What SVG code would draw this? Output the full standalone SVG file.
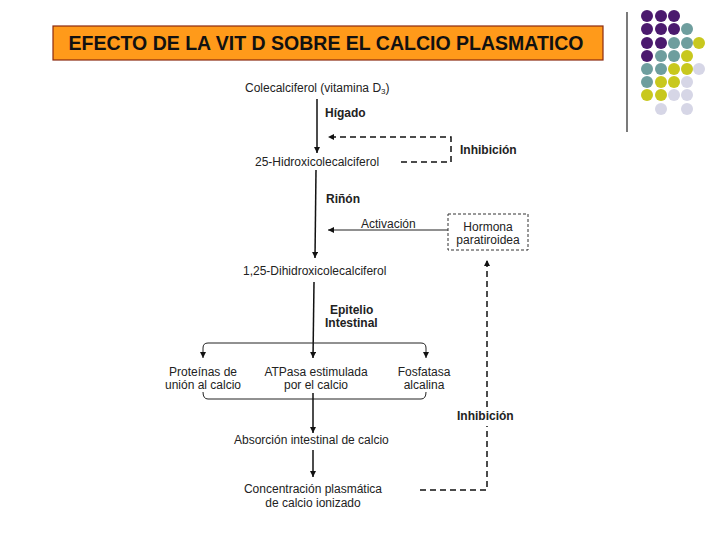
<svg xmlns="http://www.w3.org/2000/svg" width="720" height="540" viewBox="0 0 720 540">
<style>
.t{font-family:"Liberation Sans",Arial,sans-serif;font-size:12px;fill:#222}
.b{font-weight:bold}
.m{text-anchor:middle}
.ln{fill:none;stroke:#111;stroke-width:1.5}
.th{fill:none;stroke:#222;stroke-width:1}
.ds{fill:none;stroke:#111;stroke-width:1.5;stroke-dasharray:6,4}
.pu{fill:#4b1a6e}.te{fill:#6e9e9e}.ye{fill:#c8c81e}.la{fill:#d6d6e6}
</style>
<defs>
<marker id="ah" viewBox="0 0 10 10" refX="10" refY="5" markerWidth="6" markerHeight="6" orient="auto" markerUnits="userSpaceOnUse">
<path d="M0,0 L10,5 L0,10 z" fill="#111"/>
</marker>
</defs>
<rect width="720" height="540" fill="#fff"/>
<g id="title">
<rect x="53" y="26" width="550" height="34" fill="#ff9a1a" stroke="#8b2a10" stroke-width="1.2"/>
<text x="326" y="50" text-anchor="middle" font-family="Liberation Sans,Arial,sans-serif" font-weight="bold" font-size="19.5" fill="#111">EFECTO DE LA VIT D SOBRE EL CALCIO PLASMATICO</text>
</g>
<g id="decor">
<line x1="627" y1="12" x2="627" y2="132" stroke="#222" stroke-width="1.2"/>
<circle cx="647" cy="16" r="6" class="pu"/><circle cx="661" cy="16" r="6" class="pu"/><circle cx="674" cy="16" r="6" class="pu"/>
<circle cx="647" cy="29" r="6" class="pu"/><circle cx="661" cy="29" r="6" class="pu"/><circle cx="674" cy="29" r="6" class="pu"/><circle cx="687" cy="29" r="6" class="te"/>
<circle cx="647" cy="43" r="6" class="pu"/><circle cx="661" cy="43" r="6" class="pu"/><circle cx="674" cy="43" r="6" class="te"/><circle cx="687" cy="43" r="6" class="te"/><circle cx="699" cy="43" r="6" class="ye"/>
<circle cx="647" cy="56" r="6" class="pu"/><circle cx="661" cy="56" r="6" class="te"/><circle cx="674" cy="56" r="6" class="te"/><circle cx="687" cy="56" r="6" class="ye"/>
<circle cx="647" cy="69" r="6" class="te"/><circle cx="661" cy="69" r="6" class="te"/><circle cx="674" cy="69" r="6" class="ye"/><circle cx="687" cy="69" r="6" class="ye"/><circle cx="699" cy="69" r="6" class="la"/>
<circle cx="647" cy="82" r="6" class="te"/><circle cx="661" cy="82" r="6" class="ye"/><circle cx="674" cy="82" r="6" class="ye"/><circle cx="687" cy="82" r="6" class="la"/>
<circle cx="647" cy="95" r="6" class="ye"/><circle cx="661" cy="95" r="6" class="ye"/><circle cx="674" cy="95" r="6" class="la"/><circle cx="687" cy="95" r="6" class="la"/>
<circle cx="661" cy="109" r="6" class="la"/><circle cx="687" cy="109" r="6" class="la"/>
</g>
<g id="connectors">
<line class="ln" x1="317" y1="99" x2="317" y2="153" marker-end="url(#ah)"/>
<line class="ln" x1="316" y1="170" x2="315" y2="258" marker-end="url(#ah)"/>
<line class="ln" x1="314" y1="282" x2="313" y2="358" marker-end="url(#ah)"/>
<line class="th" x1="448" y1="230" x2="328" y2="230" marker-end="url(#ah)"/>
<path class="th" d="M313,343 H208 Q203,343 203,348 V358" marker-end="url(#ah)"/>
<path class="th" d="M313,343 H421 Q426,343 426,348 V358" marker-end="url(#ah)"/>
<path class="th" d="M203,392 Q203,399 208,399 H421 Q426,399 426,392"/>
<line class="ln" x1="313" y1="393" x2="313" y2="433" marker-end="url(#ah)"/>
<line class="ln" x1="313" y1="450" x2="313" y2="477" marker-end="url(#ah)"/>
<path class="ds" d="M401,162 H451 V137 H328" marker-end="url(#ah)"/>
<path class="ds" d="M420,490 H487 V426"/>
<path class="ds" d="M487,407 V260" marker-end="url(#ah)"/>
</g>
<g id="n-colecalciferol"><text class="t" x="245" y="92">Colecalciferol (vitamina D<tspan font-size="8" dy="2">3</tspan><tspan dy="-2">)</tspan></text></g>
<g id="n-higado"><text class="t b" x="325" y="117">Hígado</text></g>
<g id="n-25hidroxi"><text class="t" x="255" y="166">25-Hidroxicolecalciferol</text></g>
<g id="n-inhibicion1"><text class="t b" x="460" y="154">Inhibición</text></g>
<g id="n-rinon"><text class="t b" x="326" y="203">Riñón</text></g>
<g id="n-activacion"><text class="t" x="361" y="228">Activación</text></g>
<g id="n-hormona">
<rect x="448" y="214" width="80" height="36" fill="none" stroke="#333" stroke-width="1" stroke-dasharray="3,2"/>
<text class="t m" x="488" y="231">Hormona</text>
<text class="t m" x="488" y="244">paratiroidea</text>
</g>
<g id="n-125dihidroxi"><text class="t" x="243" y="275">1,25-Dihidroxicolecalciferol</text></g>
<g id="n-epitelio">
<text class="t b" x="330" y="314">Epitelio</text>
<text class="t b" x="325" y="327">Intestinal</text>
</g>
<g id="n-proteinas">
<text class="t m" x="203" y="376">Proteínas de</text>
<text class="t m" x="203" y="389">unión al calcio</text>
</g>
<g id="n-atpasa">
<text class="t m" x="316" y="376">ATPasa estimulada</text>
<text class="t m" x="316" y="389">por el calcio</text>
</g>
<g id="n-fosfatasa">
<text class="t m" x="424" y="376">Fosfatasa</text>
<text class="t m" x="424" y="389">alcalina</text>
</g>
<g id="n-inhibicion2"><text class="t b" x="457" y="420">Inhibición</text></g>
<g id="n-absorcion"><text class="t" x="234" y="444">Absorción intestinal de calcio</text></g>
<g id="n-concentracion">
<text class="t m" x="313" y="493">Concentración plasmática</text>
<text class="t m" x="313" y="507">de calcio ionizado</text>
</g>
</svg>
